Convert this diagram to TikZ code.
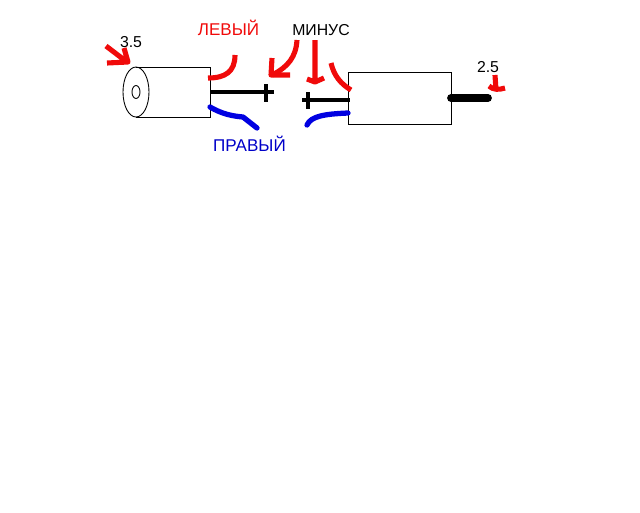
\documentclass[tikz,border=0pt]{standalone}
\usepackage{fontspec}
\setmainfont{Liberation Sans}
\definecolor{wirered}{RGB}{240,10,10}
\definecolor{wireblue}{RGB}{0,0,225}
\definecolor{textblue}{RGB}{0,0,200}
\tikzset{
  outline/.style={draw=black,line width=0.5pt},
  redmark/.style={draw=wirered,line width=2.9pt,line join=round},
  bluewire/.style={draw=wireblue,line width=3pt,line cap=round,line join=round},
  blackwire/.style={draw=black,line width=2.2pt},
  plug/.style={draw=black,line width=4.4pt,line cap=round},
  lbl/.style={font=\fontsize{9pt}{10pt}\selectfont,inner sep=0pt},
  biglbl/.style={font=\fontsize{9.7pt}{11pt}\selectfont,inner sep=0pt}
}
\begin{document}
\begin{tikzpicture}[x=0.02cm,y=-0.02cm]
\useasboundingbox (0,0) rectangle (640,512);
% 3.5 plug
\draw[outline] (136,67) -- (210,67) -- (210,117) -- (136,117);
\draw[outline] (136,92) ellipse (13 and 25);
\draw[outline] (136,92) ellipse (4 and 6.5);
\draw[redmark] (208,78) .. controls (225,78) and (235,72) .. (235,55);
\draw[blackwire] (210,92) -- (274,92);
\draw[blackwire] (266,84) -- (266,102);
\draw[bluewire] (210,107) .. controls (222,114) and (232,116) .. (243,117) -- (257,128);
% 2.5 plug
\draw[outline] (348,72) rectangle (451,124);
\draw[redmark] (331,63) .. controls (334,76) and (341,84) .. (351,90);
\draw[blackwire] (302,100) -- (350,100);
\draw[blackwire] (308,92) -- (308,109);
\draw[bluewire] (307,125) .. controls (311,116) and (325,114) .. (348,113);
\draw[plug] (451,98) -- (488,98);
% arrows
\draw[redmark] (106,46) -- (127,62) (107,63) -- (128,62) -- (124,48);
\draw[redmark] (297,40) .. controls (296,57) and (288,67) .. (272,75);
\draw[redmark] (272,58) -- (271,75) -- (290,75);
\draw[redmark] (315,40) -- (315,81) (307,79) -- (315,82) -- (324,78);
\draw[redmark] (495,75) -- (496,90) (489,86) .. controls (493,90) and (499,90) .. (505,88);
% labels
\node[biglbl,text=wirered] (levy) at (228.5,28) {ЛЕВЫЙ};
\node[lbl] (minus) at (321,30) {МИНУС};
\node[lbl] (d35) at (131,42) {3.5};
\node[lbl] (d25) at (488,67) {2.5};
\node[biglbl,text=textblue] (pravy) at (249.5,144) {ПРАВЫЙ};
\end{tikzpicture}
\end{document}
